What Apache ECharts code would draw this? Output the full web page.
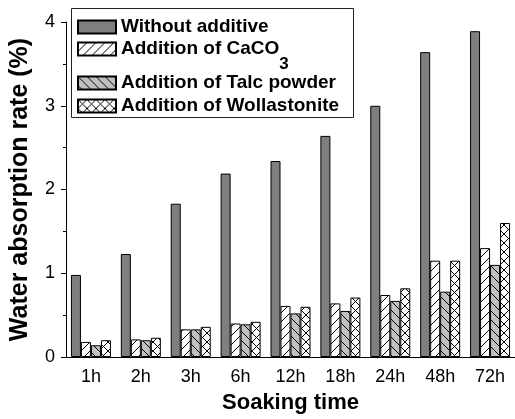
<!DOCTYPE html>
<html>
<head>
<meta charset="utf-8">
<script src="https://cdn.jsdelivr.net/npm/echarts@6/dist/echarts.min.js"></script>
<style>
	html, body { margin: 0; padding: 0; background: #fff; }
	#chart { width: 515px; height: 419px; }
</style>
</head>
<body>
<div id="chart"></div>
<script>
// soaking times
var times = ['1h', '2h', '3h', '6h', '12h', '18h', '24h', '48h', '72h'];
// water absorption rate (%)
var noAdditive = [0.98, 1.23, 1.83, 2.19, 2.34, 2.64, 3.0, 3.64, 3.89];
var caco3 = [0.18, 0.21, 0.33, 0.40, 0.61, 0.64, 0.74, 1.15, 1.30];
var talc = [0.14, 0.20, 0.33, 0.39, 0.52, 0.55, 0.67, 0.78, 1.10];
var wollastonite = [0.20, 0.23, 0.36, 0.42, 0.60, 0.71, 0.82, 1.15, 1.60];
var yTicks = [0, 1, 2, 3, 4];

var names = ['Without additive', 'Addition of CaCO3', 'Addition of Talc powder', 'Addition of Wollastonite'];
var font = 'Arial, "Liberation Sans", sans-serif';

/*
 * hatch tile for bar fill
 */
function hatch(bg, dirs) {
	var n = 9;
	var c = document.createElement('canvas');
	c.width = n;
	c.height = n;
	var g = c.getContext('2d');
	g.fillStyle = bg;
	g.fillRect(0, 0, n, n);
	g.strokeStyle = '#000';
	g.lineWidth = 1;
	g.beginPath();
	if(dirs.indexOf('/') >= 0) {
		g.moveTo(-1, n + 1); g.lineTo(n + 1, -1);
		g.moveTo(-2, 1); g.lineTo(1, -2);
		g.moveTo(n - 1, n + 2); g.lineTo(n + 2, n - 1);
	}
	if(dirs.indexOf('\\') >= 0) {
		g.moveTo(-1, -1); g.lineTo(n + 1, n + 1);
		g.moveTo(-2, n - 1); g.lineTo(1, n + 2);
		g.moveTo(n - 1, -2); g.lineTo(n + 2, 1);
	}
	g.stroke();
	return { image: c, repeat: 'repeat' };
}

var fills = ['#7f7f7f', hatch('#ffffff', '/'), hatch('#c0c0c0', '\\'), hatch('#ffffff', '/\\')];
var datas = [noAdditive, caco3, talc, wollastonite];

var series = [];
for(var i = 0; i < 4; i++) {
	series.push({
		name: names[i],
		type: 'bar',
		xAxisIndex: 0,
		barWidth: 10,
		barGap: '0%',
		data: datas[i],
		itemStyle: {
			color: fills[i],
			borderColor: '#000',
			borderWidth: 1
		}
	});
}

// one legend per row so the rows can be spaced like the figure
var legendTops = [17, 25, 73, 96];
var legends = [];
for(var i = 0; i < 4; i++) {
	var lg = {
		data: [names[i]],
		orient: 'vertical',
		left: 77,
		top: legendTops[i],
		padding: 0,
		icon: 'rect',
		itemWidth: 38,
		itemHeight: 13,
		selectedMode: false,
		textStyle: {
			fontFamily: font,
			fontSize: 19,
			fontWeight: 'bold',
			color: '#000',
			lineHeight: 20
		}
	};
	if(i == 1) {
		lg.formatter = function() {
			return '{a|Addition of CaCO}{sub|3}';
		};
		lg.textStyle.rich = {
			a: { fontFamily: font, fontSize: 19, fontWeight: 'bold', color: '#000', lineHeight: 48 },
			sub: { fontFamily: font, fontSize: 17, fontWeight: 'bold', color: '#000', lineHeight: 21, verticalAlign: 'bottom' }
		};
	}
	legends.push(lg);
}

var ech = echarts.init(document.getElementById('chart'), null, { renderer: 'canvas' });
var option = {
	animation: false,
	backgroundColor: '#fff',
	grid: {
		left: 66,
		top: 22,
		width: 454,
		height: 338
	},
	legend: legends,
	graphic: [{
		type: 'rect',
		shape: { x: 71.5, y: 8.5, width: 282, height: 109 },
		style: { fill: 'none', stroke: '#222', lineWidth: 1 },
		z: 10
	}],
	xAxis: [{
		type: 'category',
		data: times,
		name: 'Soaking time',
		nameLocation: 'middle',
		nameGap: 35,
		nameTextStyle: {
			fontFamily: font,
			fontSize: 22,
			fontWeight: 'bold',
			color: '#000'
		},
		axisLine: { lineStyle: { color: '#000', width: 1 } },
		axisTick: { alignWithLabel: true, interval: 0, length: 5, lineStyle: { color: '#000' } },
		axisLabel: { interval: 0, margin: 11, fontFamily: font, fontSize: 18, color: '#000' }
	}, {
		type: 'category',
		data: times,
		position: 'bottom',
		axisLine: { show: false },
		axisTick: { interval: 0, length: 3, lineStyle: { color: '#000' } },
		axisLabel: { show: false }
	}],
	yAxis: [{
		type: 'value',
		min: yTicks[0],
		max: yTicks[yTicks.length - 1],
		interval: 1,
		name: 'Water absorption rate (%)',
		nameLocation: 'middle',
		nameGap: 33,
		nameTextStyle: {
			fontFamily: font,
			fontSize: 25,
			fontWeight: 'bold',
			color: '#000'
		},
		axisLine: { show: true, lineStyle: { color: '#000', width: 1 } },
		axisTick: { show: true, length: 5, lineStyle: { color: '#000' } },
		minorTick: { show: true, splitNumber: 2, length: 3, lineStyle: { color: '#000' } },
		splitLine: { show: false },
		axisLabel: { margin: 11, fontFamily: font, fontSize: 18, color: '#000' }
	}],
	series: series
};
ech.setOption(option);
</script>
</body>
</html>
